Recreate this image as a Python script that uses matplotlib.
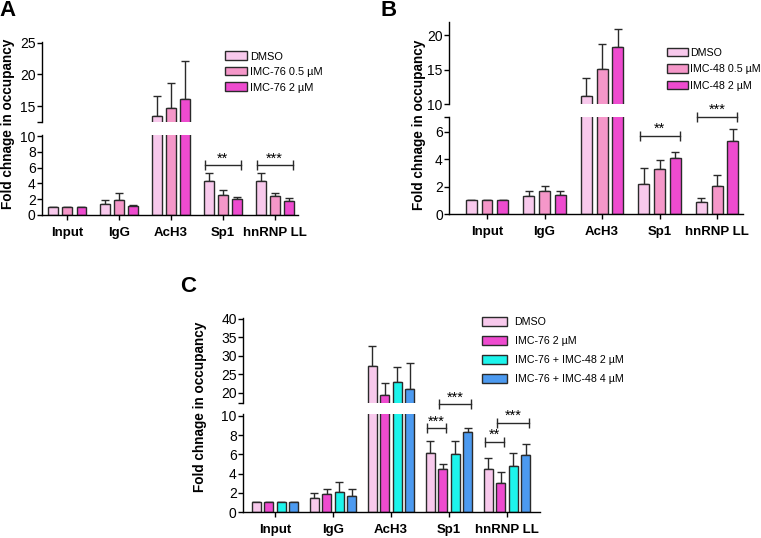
import numpy as np
import matplotlib
matplotlib.use("Agg")
import matplotlib.pyplot as plt

plt.rcParams['font.family'] = ['Liberation Sans', 'DejaVu Sans']

# ---------------- data ----------------
groups = ['Input', 'IgG', 'AcH3', 'Sp1', 'hnRNP LL']

a_labels = ['DMSO', 'IMC-76 0.5 µM', 'IMC-76 2 µM']
a_dmso = [1.0, 1.35, 13.5, 4.35, 4.3]
a_dmso_sd = [0.0, 0.5, 3.1, 1.0, 1.0]
a_imc76_05 = [1.0, 1.9, 14.7, 2.6, 2.45]
a_imc76_05_sd = [0.0, 0.95, 3.9, 0.55, 0.35]
a_imc76_2 = [1.0, 1.1, 16.1, 2.0, 1.8]
a_imc76_2_sd = [0.0, 0.2, 6.0, 0.25, 0.35]

b_labels = ['DMSO', 'IMC-48 0.5 µM', 'IMC-48 2 µM']
b_dmso = [1.0, 1.3, 11.1, 2.2, 0.85]
b_dmso_sd = [0.0, 0.4, 2.7, 1.15, 0.35]
b_imc48_05 = [1.0, 1.65, 15.1, 3.25, 2.05]
b_imc48_05_sd = [0.0, 0.4, 3.7, 0.65, 0.8]
b_imc48_2 = [1.0, 1.35, 18.3, 4.05, 5.3]
b_imc48_2_sd = [0.0, 0.35, 2.6, 0.5, 0.9]

c_labels = ['DMSO', 'IMC-76 2 µM', 'IMC-76 + IMC-48 2 µM', 'IMC-76 + IMC-48 4 µM']
c_dmso = [1.0, 1.5, 27.2, 6.1, 4.5]
c_dmso_sd = [0.0, 0.5, 5.3, 1.25, 1.15]
c_imc76 = [1.0, 1.85, 19.5, 4.5, 3.0]
c_imc76_sd = [0.0, 0.5, 3.1, 0.5, 1.15]
c_combo2 = [1.0, 2.1, 22.8, 6.0, 4.75]
c_combo2_sd = [0.0, 1.0, 4.1, 1.35, 1.4]
c_combo4 = [1.0, 1.7, 21.1, 8.3, 5.9]
c_combo4_sd = [0.0, 0.65, 6.9, 0.4, 1.2]

# significance: (group, bar_i, bar_j, y, text)
a_sig = [(3, 0, 2, 6.3, '**'), (4, 0, 2, 6.3, '***')]
b_sig = [(3, 0, 2, 5.7, '**'), (4, 0, 2, 7.1, '***')]
c_sig = [(3, 0, 1, 8.7, '***'), (3, 1, 3, 11.2, '***'),
         (4, 0, 1, 7.3, '**'), (4, 1, 3, 9.3, '***')]

# ---------------- style ----------------
c_light = '#F8C9EC'
c_mid = '#F597C9'
c_mag = '#EE4BCF'
c_cyan = '#1CF4EC'
c_blue = '#4C9AF0'
edge = '#2a2a2a'

W, H = 761, 538
fig = plt.figure(figsize=(7.61, 5.38), dpi=100)


def px_rect(x0, x1, y0, y1):
    return [x0 / W, 1 - y1 / H, (x1 - x0) / W, (y1 - y0) / H]


def panel(xr, up_y, low_y, series, sds, colors, labels, width, step, xlim,
          up_lim, up_ticks, up_extra, low_lim, low_ticks, low_extra, sigs,
          leg_xy, leg_fs, leg_hl, leg_ls, leg_hp, leg_hh):
    ax_u = fig.add_axes(px_rect(xr[0], xr[1], up_y[0], up_y[1]))
    ax_l = fig.add_axes(px_rect(xr[0], xr[1], low_y[0], low_y[1]))
    n = len(series)
    x = np.arange(len(groups))
    handles = []
    for ax in (ax_l, ax_u):
        ax.set_facecolor('none')
        for i, (vals, sd, col) in enumerate(zip(series, sds, colors)):
            xi = x + (i - (n - 1) / 2) * step
            b = ax.bar(xi, vals, width=width, color=col, edgecolor=edge,
                       linewidth=1.0, zorder=2)
            ax.errorbar(xi, vals, yerr=[np.zeros(len(vals)), sd], fmt='none',
                        ecolor=edge, elinewidth=1.0, capsize=2.6, capthick=1.0,
                        zorder=1)
            if ax is ax_l:
                handles.append(b)
        ax.set_xlim(*xlim)
        ax.spines['top'].set_visible(False)
        ax.spines['right'].set_visible(False)
        for s in ax.spines.values():
            s.set_linewidth(1.0)
        ax.tick_params(axis='y', direction='out', length=3.5, width=1.0,
                       labelsize=10, pad=1)
    # upper
    ax_u.set_ylim(*up_lim)
    ax_u.spines['bottom'].set_visible(False)
    ax_u.set_xticks([])
    t = sorted(up_ticks + up_extra)
    ax_u.set_yticks(t)
    ax_u.set_yticklabels(['' if v in up_extra else f'{v:g}' for v in t])
    # lower
    ax_l.set_ylim(*low_lim)
    t = sorted(low_ticks + low_extra)
    ax_l.set_yticks(t)
    ax_l.set_yticklabels(['' if v in low_extra else f'{v:g}' for v in t])
    ax_l.set_xticks(x)
    ax_l.set_xticklabels(groups, fontweight='bold', fontsize=9.5)
    ax_l.tick_params(axis='x', direction='out', length=3.5, width=1.0, pad=5)
    # significance
    for g, i, j, y, txt in sigs:
        x0 = g + (i - (n - 1) / 2) * step - width * 0.4
        x1 = g + (j - (n - 1) / 2) * step + width * 0.4
        ax_l.plot([x0, x1], [y, y], color=edge, lw=1.0, clip_on=False, zorder=5)
        ax_l.plot([x0, x1], [y, y], ls='none', marker='|', ms=7, mew=1.0,
                  color=edge, clip_on=False, zorder=5)
        ax_l.annotate(txt, xy=((x0 + x1) / 2, y), xytext=(0, 0),
                      textcoords='offset points', ha='center', va='bottom',
                      fontsize=10.5, annotation_clip=False)
    fig.legend(handles, labels, loc='upper left',
               bbox_to_anchor=(leg_xy[0] / W, 1 - leg_xy[1] / H),
               frameon=False, fontsize=leg_fs, handlelength=leg_hl,
               handleheight=leg_hh, labelspacing=leg_ls, handletextpad=leg_hp,
               borderpad=0, borderaxespad=0)
    return ax_u, ax_l


panel((42, 298), (42, 122), (135, 215),
      [a_dmso, a_imc76_05, a_imc76_2],
      [a_dmso_sd, a_imc76_05_sd, a_imc76_2_sd],
      [c_light, c_mid, c_mag], a_labels, 0.19, 0.272, (-0.49, 4.45),
      (12.5, 25.1), [15, 20, 25], [12.5], (0, 10.15), [0, 2, 4, 6, 8, 10], [],
      a_sig, (225, 51.5), 7.9, 2.05, 0.5, 0.2, 0.8)

panel((449, 743), (21.7, 104), (116.7, 214),
      [b_dmso, b_imc48_05, b_imc48_2],
      [b_dmso_sd, b_imc48_05_sd, b_imc48_2_sd],
      [c_light, c_mid, c_mag], b_labels, 0.19, 0.272, (-0.66, 4.45),
      (10, 22), [10, 15, 20], [], (0, 7.09), [0, 2, 4, 6], [7.09],
      b_sig, (667, 47.8), 7.7, 1.95, 0.6, 0.2, 0.8)

panel((243, 540), (318, 403), (414, 512),
      [c_dmso, c_imc76, c_combo2, c_combo4],
      [c_dmso_sd, c_imc76_sd, c_combo2_sd, c_combo4_sd],
      [c_light, c_mag, c_cyan, c_blue], c_labels, 0.155, 0.215, (-0.55, 4.57),
      (17.2, 40.2), [20, 25, 30, 35, 40], [17.2], (0, 10.2),
      [0, 2, 4, 6, 8, 10], [], c_sig, (482, 316.7), 7.7, 2.3, 0.85, 0.75, 0.9)

# y labels
for (xp, yp) in [(8, 123.5), (419, 125), (200, 407)]:
    fig.text(xp / W, 1 - yp / H, 'Fold chnage in occupancy', rotation=90,
             ha='center', va='center', fontweight='bold', fontsize=9.8)

# panel letters
for (lab, xp, yp) in [('A', 8, 10), ('B', 389, 10), ('C', 188, 286)]:
    fig.text(xp / W, 1 - yp / H, lab, ha='center', va='center',
             fontweight='bold', fontsize=16)

fig.savefig('out.png', dpi=100)
